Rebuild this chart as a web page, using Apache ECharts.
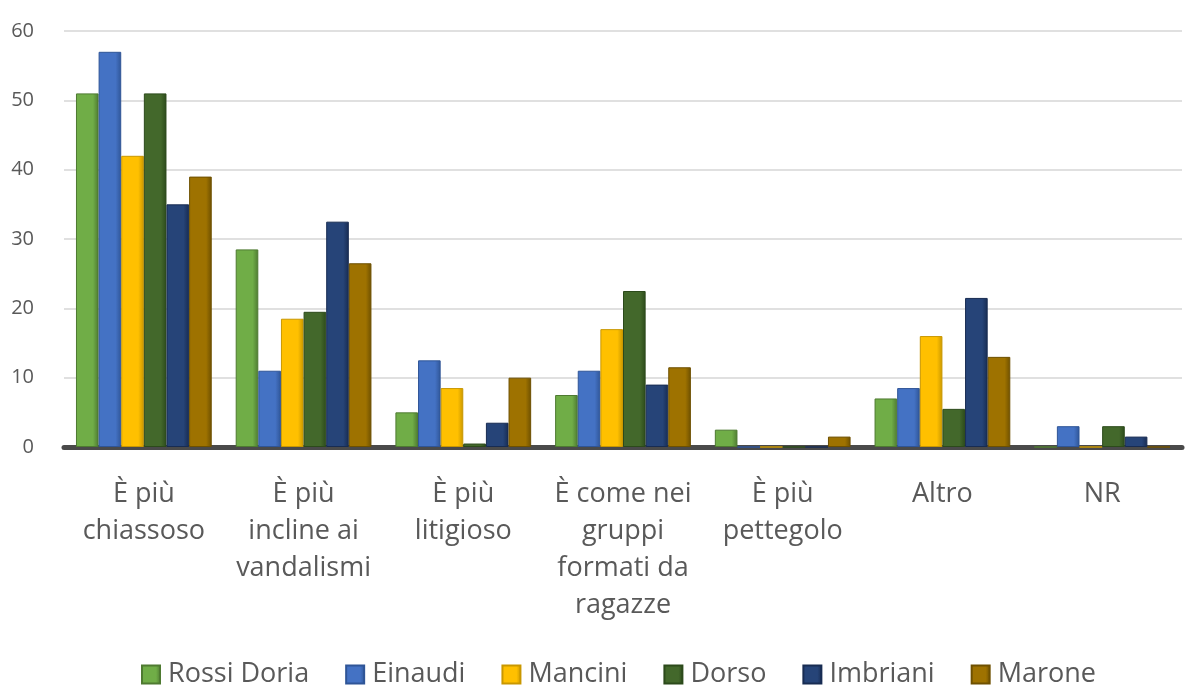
<!DOCTYPE html>
<html>
<head>
<meta charset="utf-8">
<script src="https://cdn.jsdelivr.net/npm/echarts@6/dist/echarts.min.js"></script>
<style>
  html, body { margin: 0; padding: 0; background: #ffffff; }
  #chart { width: 1188px; height: 686px; }
</style>
</head>
<body>
<div id="chart"></div>
<script>
// Categories (answers) and per-school percentages
const categories = [
  "È più\nchiassoso",
  "È più\nincline ai\nvandalismi",
  "È più\nlitigioso",
  "È come nei\ngruppi\nformati da\nragazze",
  "È più\npettegolo",
  "Altro",
  "NR"
];
const seriesNames = ["Rossi Doria", "Einaudi", "Mancini", "Dorso", "Imbriani", "Marone"];
const rossiDoria = [51, 28.5, 5, 7.5, 2.5, 7, 0];
const einaudi    = [57, 11, 12.5, 11, 0, 8.5, 3];
const mancini    = [42, 18.5, 8.5, 17, 0, 16, 0];
const dorso      = [51, 19.5, 0.5, 22.5, 0, 5.5, 3];
const imbriani   = [35, 32.5, 3.5, 9, 0, 21.5, 1.5];
const marone     = [39, 26.5, 10, 11.5, 1.5, 13, 0];
const yTicks = [0, 10, 20, 30, 40, 50, 60];

const values = [rossiDoria, einaudi, mancini, dorso, imbriani, marone];
const baseColors = ["#70ad47", "#4472c4", "#ffc000", "#43682b", "#264478", "#9e7200"];
const darkColors = ["#4e7a31", "#2f5597", "#c99700", "#2c4a1b", "#182c52", "#6e5000"];
const FONT = "'Open Sans', 'Liberation Sans', sans-serif";

const chart = echarts.init(document.getElementById('chart'));
chart.setOption({
  animation: false,
  grid: { left: 64, right: 6, top: 31, height: 416 },
  legend: {
    top: 656,
    left: 136,
    itemWidth: 18,
    itemHeight: 18,
    itemGap: 36,
    icon: 'rect',
    textStyle: { fontFamily: FONT, fontSize: 27, color: '#595959', padding: [0, 0, 0, 3] },
    data: seriesNames
  },
  xAxis: {
    type: 'category',
    data: categories,
    axisTick: { show: false },
    axisLine: { show: true, lineStyle: { color: '#4a4a4a', width: 5 } },
    axisLabel: {
      fontFamily: FONT,
      fontSize: 27,
      color: '#595959',
      lineHeight: 37,
      margin: 29,
      interval: 0
    }
  },
  yAxis: {
    type: 'value',
    min: yTicks[0],
    max: yTicks[yTicks.length - 1],
    interval: 10,
    axisLine: { show: false },
    axisTick: { show: false },
    splitLine: { lineStyle: { color: '#e0e0e0', width: 2 } },
    axisLabel: { fontFamily: FONT, fontSize: 20, color: '#595959', margin: 30 }
  },
  series: seriesNames.map((name, i) => ({
    name: name,
    type: 'bar',
    data: values[i],
    barGap: '0%',
    barCategoryGap: '15%',
    itemStyle: {
      color: new echarts.graphic.LinearGradient(0, 0, 1, 0, [
        { offset: 0, color: baseColors[i] },
        { offset: 0.75, color: baseColors[i] },
        { offset: 1, color: darkColors[i] }
      ]),
      borderColor: darkColors[i],
      borderWidth: 1
    }
  }))
});
</script>
</body>
</html>
